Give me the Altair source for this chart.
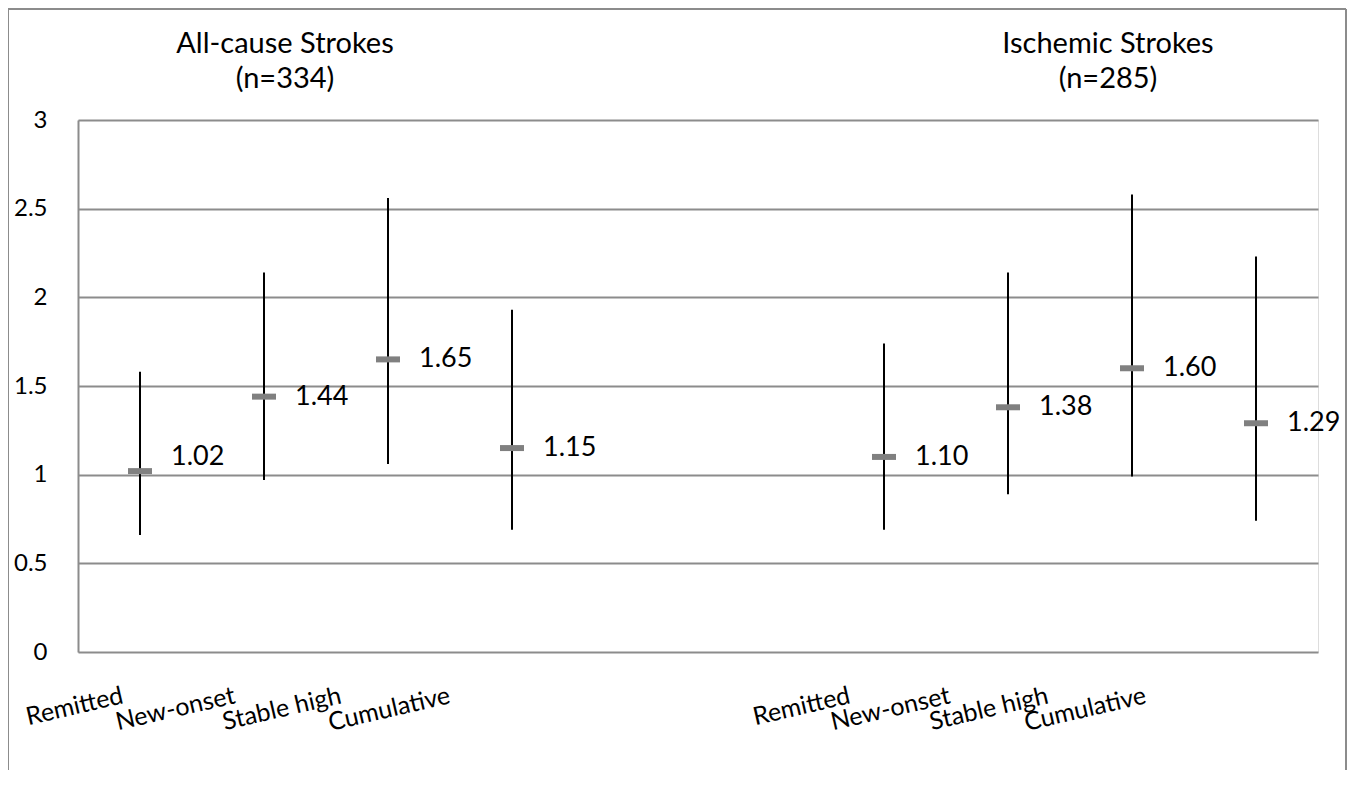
import altair as alt
import pandas as pd

# ---- data ----
groups = ["All-cause"] * 4 + ["Ischemic"] * 4
categories = ["Remitted", "New-onset", "Stable high", "Cumulative"] * 2
estimates = [1.02, 1.44, 1.65, 1.15, 1.10, 1.38, 1.60, 1.29]
lower = [0.66, 0.97, 1.06, 0.69, 0.69, 0.89, 0.99, 0.74]
upper = [1.58, 2.14, 2.56, 1.93, 1.74, 2.14, 2.58, 2.23]
panel_titles = ["All-cause Strokes\n(n=334)", "Ischemic  Strokes\n(n=285)"]
y_ticks = [0, 0.5, 1, 1.5, 2, 2.5, 3]

keys = [f"{g}|{c}" for g, c in zip(groups, categories)]
x_domain = keys[:4] + ["gap1", "gap2"] + keys[4:]

df = pd.DataFrame({"key": keys, "est": estimates, "lo": lower, "hi": upper})

FONT = "Lato"
GRID = "#8c8c8c"

# per-label horizontal shift of the rotated category labels (style)
label_shift = [-20, -32, -50, -65, -37, -61, -87, -113]
label_offset = {
    "condition": [
        {"test": f"datum.value == '{k}'", "value": s} for k, s in zip(keys, label_shift)
    ],
    "value": 0,
}

x_enc = alt.X(
    "key:N",
    title=None,
    scale=alt.Scale(domain=x_domain, paddingInner=0, paddingOuter=0),
    axis=alt.Axis(
        labelExpr="indexof(datum.value, '|') >= 0 ? split(datum.value, '|')[1] : ''",
        labelAngle=-13,
        labelAlign="right",
        labelBaseline="top",
        labelPadding=31,
        labelOffset=label_offset,
        labelFont=FONT,
        labelFontSize=25,
        labelColor="black",
        labelOverlap=False,
        labelBound=False,
        labelFlush=False,
        ticks=False,
        domain=False,
        grid=False,
    ),
)

y_axis = alt.Axis(
    values=y_ticks,
    format="~g",
    grid=True,
    gridColor=GRID,
    gridWidth=2,
    domain=True,
    domainColor=GRID,
    domainWidth=2,
    ticks=False,
    labelPadding=31,
    labelFont=FONT,
    labelFontSize=24,
    labelColor="black",
    title=None,
)
y_scale = alt.Scale(domain=[0, 3], nice=False, zero=True)

base = alt.Chart(df)

bars = base.mark_rule(color="black", strokeWidth=2).encode(
    x=x_enc,
    y=alt.Y("lo:Q", scale=y_scale, axis=y_axis),
    y2="hi:Q",
)

markers = base.mark_tick(color="#808080", thickness=6, size=24, opacity=1).encode(
    x=x_enc,
    y=alt.Y("est:Q", scale=y_scale, axis=y_axis),
)

labels_main = base.transform_filter("datum.est != 1.02").mark_text(
    align="left", baseline="middle", dx=31, font=FONT, fontSize=27, color="black"
).encode(
    x=x_enc,
    y=alt.Y("est:Q", scale=y_scale, axis=y_axis),
    text=alt.Text("est:Q", format=".2f"),
)

labels_raised = base.transform_filter("datum.est == 1.02").mark_text(
    align="left", baseline="middle", dx=31, dy=-14, font=FONT, fontSize=27, color="black"
).encode(
    x=x_enc,
    y=alt.Y("est:Q", scale=y_scale, axis=y_axis),
    text=alt.Text("est:Q", format=".2f"),
)

title_df = pd.DataFrame({"key": [keys[1], keys[6]], "t": panel_titles})

title_left = alt.Chart(title_df).transform_filter(f"datum.key == '{keys[1]}'").mark_text(
    align="center", baseline="top", dx=21, lineBreak="\n", lineHeight=35,
    font=FONT, fontSize=29, color="black"
).encode(x=x_enc, y=alt.value(-90), text="t:N")

title_right = alt.Chart(title_df).transform_filter(f"datum.key == '{keys[6]}'").mark_text(
    align="center", baseline="top", dx=-24, lineBreak="\n", lineHeight=35,
    font=FONT, fontSize=29, color="black"
).encode(x=x_enc, y=alt.value(-90), text="t:N")

frame_color = "#8c8c8c"
frame_left = alt.Chart(title_df).mark_rule(color=frame_color, strokeWidth=2).encode(
    x=alt.value(-70), y=alt.value(-111), y2=alt.value(650)
)
frame_right = alt.Chart(title_df).mark_rule(color=frame_color, strokeWidth=2).encode(
    x=alt.value(1268), y=alt.value(-111), y2=alt.value(650)
)
frame_top = alt.Chart(title_df).mark_rule(color=frame_color, strokeWidth=2).encode(
    x=alt.value(-70), x2=alt.value(1268), y=alt.value(-111)
)

chart = alt.layer(
    bars, markers, labels_main, labels_raised, title_left, title_right,
    frame_left, frame_right, frame_top,
).properties(
    width=1240,
    height=532,
    padding={"left": 70, "top": 112, "right": 29, "bottom": 120},
    autosize=alt.AutoSizeParams(type="none"),
).configure_view(stroke=None).configure(background="white")

chart.save("out.html", embed_options={"renderer": "svg", "actions": False})
